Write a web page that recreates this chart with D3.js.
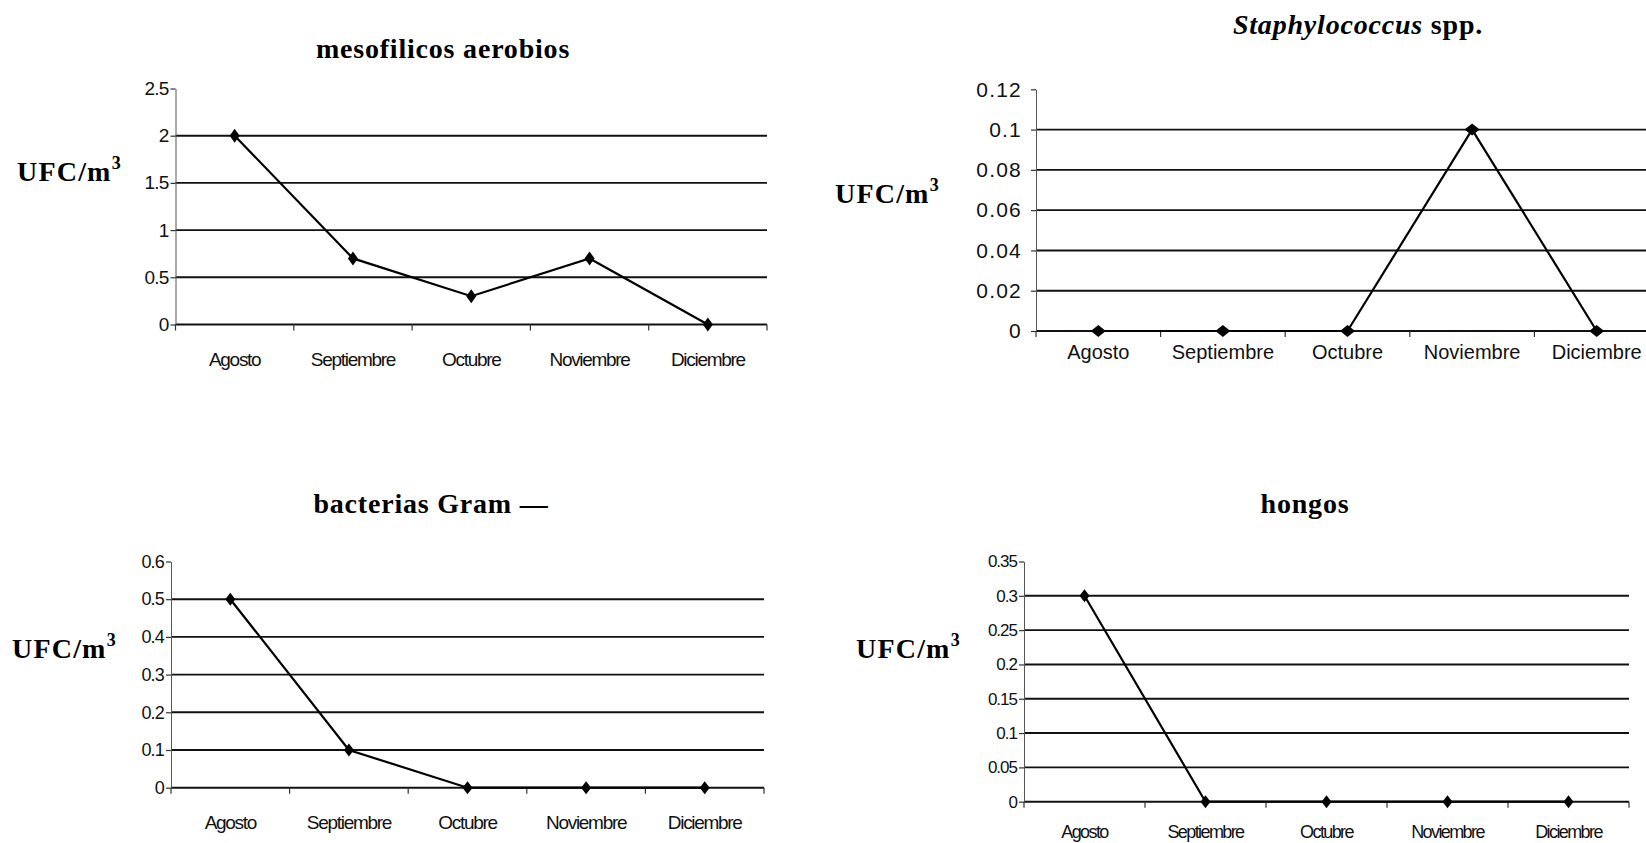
<!DOCTYPE html>
<html>
<head>
<meta charset="utf-8">
<script src="https://cdn.jsdelivr.net/npm/d3@7"></script>
<style>
  body { margin: 0; background: #fff; }
  svg { display: block; }
</style>
</head>
<body>
<div id="chart"></div>
<script>
// Four small line charts of air counts (UFC/m3) by month

// Data
const months = ["Agosto", "Septiembre", "Octubre", "Noviembre", "Diciembre"];

const mesofilicos = [2.0, 0.7, 0.3, 0.7, 0.0];
const mesofilicosTicks = [0, 0.5, 1, 1.5, 2, 2.5];

const staphylococcus = [0, 0, 0, 0.1, 0];
const staphylococcusTicks = [0, 0.02, 0.04, 0.06, 0.08, 0.1, 0.12];

const gramNegativas = [0.5, 0.1, 0, 0, 0];
const gramTicks = [0, 0.1, 0.2, 0.3, 0.4, 0.5, 0.6];

const hongos = [0.3, 0, 0, 0, 0];
const hongosTicks = [0, 0.05, 0.1, 0.15, 0.2, 0.25, 0.3, 0.35];

// Canvas
const W = 1646, H = 843;
const svg = d3.select("#chart")
    .append("svg")
    .attr("width", W)
    .attr("height", H)
    .style("background", "#fff");

const serif = "'Liberation Serif', 'Times New Roman', serif";
const sans = "'Liberation Sans', Arial, sans-serif";

// Panel layout (pixel positions)
const panels = [
    {
        values: mesofilicos, ticks: mesofilicosTicks,
        title: [{ t: "mesofilicos aerobios" }],
        left: 175.5, right: 767, bottom: 324.5, top: 88.5,
        titleX: 443, titleY: 58, ufcX: 17, ufcY: 181,
        xFont: 19, xSpacing: -1.3, xLabelDy: 41,
        yFont: 19, ySpacing: -0.8, yPad: 7,
        marker: { w: 5, h: 7 }
    },
    {
        values: staphylococcus, ticks: staphylococcusTicks,
        title: [{ t: "Staphylococcus", italic: true }, { t: " spp." }],
        left: 1036, right: 1659, bottom: 331, top: 89.3,
        titleX: 1358, titleY: 34, ufcX: 835, ufcY: 203,
        xFont: 20, xSpacing: 0, xLabelDy: 28,
        yFont: 21, ySpacing: 1.2, yPad: 14,
        marker: { w: 7.5, h: 6 }
    },
    {
        values: gramNegativas, ticks: gramTicks,
        title: [{ t: "bacterias Gram \u2014" }],
        left: 171, right: 764, bottom: 787.7, top: 561.5,
        titleX: 431, titleY: 513, ufcX: 12, ufcY: 658,
        xFont: 19, xSpacing: -1.3, xLabelDy: 41,
        yFont: 18, ySpacing: -0.8, yPad: 7,
        marker: { w: 5, h: 6.5 }
    },
    {
        values: hongos, ticks: hongosTicks,
        title: [{ t: "hongos" }],
        left: 1024, right: 1629, bottom: 801.7, top: 561.5,
        titleX: 1305, titleY: 513, ufcX: 856, ufcY: 658,
        xFont: 18, xSpacing: -1.6, xLabelDy: 36,
        yFont: 17, ySpacing: -1, yPad: 7,
        marker: { w: 5, h: 6.5 }
    }
];

panels.forEach(drawPanel);

function drawPanel(p) {
    const g = svg.append("g");

    const x = d3.scaleBand()
        .domain(months)
        .range([p.left, p.right])
        .paddingInner(0)
        .paddingOuter(0);

    const y = d3.scaleLinear()
        .domain([0, d3.max(p.ticks)])
        .range([p.bottom, p.top]);

    // Horizontal gridlines (not at the top tick, zero line is the x axis)
    g.append("g")
        .selectAll("line")
        .data(p.ticks.filter(d => d < d3.max(p.ticks)))
        .join("line")
        .attr("x1", p.left)
        .attr("x2", p.right)
        .attr("y1", d => y(d))
        .attr("y2", d => y(d))
        .attr("stroke", "#111")
        .attr("stroke-width", 1.9);

    // Y axis
    const yAxis = g.append("g")
        .attr("transform", `translate(${p.left},0)`)
        .call(d3.axisLeft(y)
            .tickValues(p.ticks)
            .tickSize(5)
            .tickSizeOuter(0)
            .tickPadding(p.yPad - 5)
            .tickFormat(d => String(d)));
    yAxis.select(".domain").attr("stroke", "#555").attr("stroke-width", 1);
    yAxis.selectAll(".tick line").attr("stroke", "#333").attr("stroke-width", 1.2);
    yAxis.selectAll("text")
        .attr("fill", "#111")
        .style("font-family", sans)
        .style("font-size", p.yFont + "px")
        .style("letter-spacing", p.ySpacing + "px");

    // X axis labels at band centres
    const xAxis = g.append("g")
        .attr("transform", `translate(0,${p.bottom})`)
        .call(d3.axisBottom(x).tickSize(0).tickSizeOuter(0).tickPadding(0));
    xAxis.select(".domain").remove();
    xAxis.selectAll("text")
        .attr("y", p.xLabelDy)
        .attr("dy", 0)
        .attr("fill", "#111")
        .style("font-family", sans)
        .style("font-size", p.xFont + "px")
        .style("letter-spacing", p.xSpacing + "px");

    // X tick marks on band boundaries
    const bounds = months.map(m => x(m)).concat([x.range()[1]]);
    g.append("g")
        .selectAll("line")
        .data(bounds)
        .join("line")
        .attr("x1", d => d)
        .attr("x2", d => d)
        .attr("y1", p.bottom)
        .attr("y2", p.bottom + 6)
        .attr("stroke", "#333")
        .attr("stroke-width", 1.2);

    // Data line
    const pts = months.map((m, i) => [x(m) + x.bandwidth() / 2, y(p.values[i])]);
    g.append("path")
        .datum(pts)
        .attr("fill", "none")
        .attr("stroke", "#000")
        .attr("stroke-width", 2.2)
        .attr("d", d3.line());

    // Diamond markers
    const w = p.marker.w, h = p.marker.h;
    g.append("g")
        .selectAll("path")
        .data(pts)
        .join("path")
        .attr("transform", d => `translate(${d[0]},${d[1]})`)
        .attr("d", `M0,${-h}L${w},0L0,${h}L${-w},0Z`)
        .attr("fill", "#000");

    // Title
    const title = g.append("text")
        .attr("x", p.titleX)
        .attr("y", p.titleY)
        .attr("text-anchor", "middle")
        .style("font-family", serif)
        .style("font-weight", "bold")
        .style("font-size", "28px")
        .style("letter-spacing", "0.8px")
        .attr("fill", "#000");
    p.title.forEach(s => {
        title.append("tspan")
            .style("font-style", s.italic ? "italic" : "normal")
            .text(s.t);
    });

    // Y axis unit label
    const ufc = g.append("text")
        .attr("x", p.ufcX)
        .attr("y", p.ufcY)
        .style("font-family", serif)
        .style("font-weight", "bold")
        .style("font-size", "28px")
        .style("letter-spacing", "1.2px")
        .attr("fill", "#000");
    ufc.append("tspan").text("UFC/m");
    ufc.append("tspan")
        .attr("dy", -12)
        .style("font-size", "18px")
        .text("3");
}
</script>
</body>
</html>
